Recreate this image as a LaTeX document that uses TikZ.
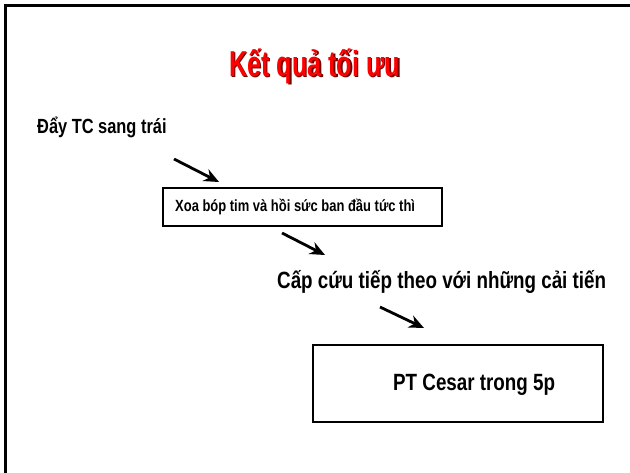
\documentclass[tikz,border=0pt]{standalone}
\usepackage{fontspec}
\usetikzlibrary{arrows.meta}
\newfontfamily\condfont{Liberation Sans}[FakeStretch=0.8]
\newfontfamily\titlefont{Liberation Sans}[FakeStretch=0.7]
\definecolor{titlered}{RGB}{255,0,0}
\definecolor{shadowred}{RGB}{110,0,0}
\tikzset{
  txt/.style={anchor=base west, inner sep=0pt, font=\condfont\bfseries\fontsize{23.5}{26}\selectfont},
  lefttxt/.style={anchor=base west, inner sep=0pt, font=\condfont\bfseries\fontsize{20.5}{24}\selectfont},
  smalltxt/.style={anchor=base west, inner sep=0pt, font=\condfont\bfseries\fontsize{16.2}{18}\selectfont},
  titletxt/.style={anchor=base west, inner sep=0pt, font=\titlefont\bfseries\fontsize{36}{40}\selectfont},
  boxx/.style={draw=black, line width=2.6pt},
  arr/.style={line width=2.8pt, -{Stealth[length=15pt,width=13pt]}},
  framel/.style={line width=3pt}
}
\begin{document}
\begin{tikzpicture}[x=1pt,y=-1pt]
\useasboundingbox (0,0) rectangle (630,472);
% frame
\draw[framel] (5.5,473) -- (5.5,5.5) -- (631,5.5);
% title with shadow
\node[titletxt, text=shadowred] (titleshadow) at (230.5,77.5) {Kết quả tối ưu};
\node[titletxt, text=titlered] (title) at (229,76) {Kết quả tối ưu};
% texts
\node[lefttxt] (t1) at (37,133) {Đẩy TC sang trái};
\draw[boxx] (163,188) rectangle (442,226);
\node[smalltxt] (t2) at (175,211.5) {Xoa bóp tim và hồi sức ban đầu tức thì};
\node[txt] (t3) at (277,288) {Cấp cứu tiếp theo với những cải tiến};
\draw[boxx] (313,345) rectangle (603,422);
\node[txt] (t4) at (393,390) {PT Cesar trong 5p};
% arrows
\coordinate (a1s) at (174,159); \coordinate (a1e) at (219,182);
\coordinate (a2s) at (282,233); \coordinate (a2e) at (325,255);
\coordinate (a3s) at (380,307); \coordinate (a3e) at (424,328);
\draw[arr] (a1s) -- (a1e);
\draw[arr] (a2s) -- (a2e);
\draw[arr] (a3s) -- (a3e);
\end{tikzpicture}
\end{document}
